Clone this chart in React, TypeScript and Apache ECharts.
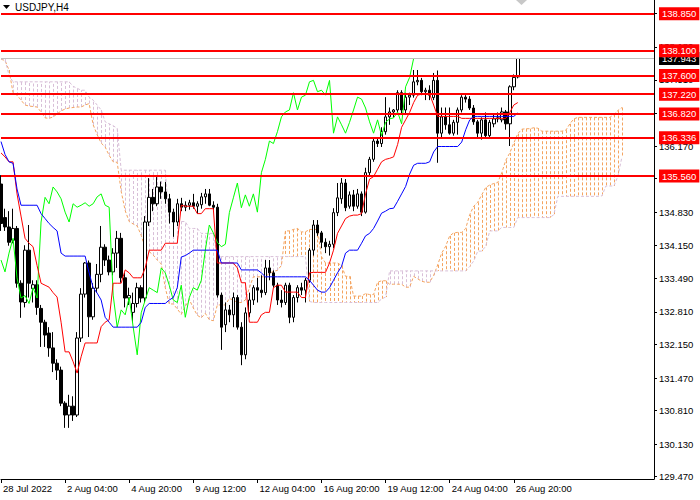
import React, { useEffect, useRef } from "react";
import * as echarts from "echarts";

const FONT = "Liberation Sans";
const SYMBOL_TITLE = "USDJPY,H4";
const FIRST_LABEL = "28 Jul 2022";
const Y_MIN = 129.424;
const Y_MAX = 139.128;
const Y_TICKS = [129.47, 130.13, 130.81, 131.47, 132.15, 132.81, 133.49, 134.15, 134.83, 135.51, 136.17, 136.84, 137.51, 138.18, 138.85];
const Y_TICK_LABELS = [129.47, 130.13, 130.81, 131.47, 132.15, 132.81, 133.49, 134.15, 134.83, 135.51, 136.17, 137.51, 138.18];
const LEVELS = [138.85, 138.1, 137.6, 137.22, 136.82, 136.336, 135.56];
const LAST_PRICE = 137.943;
const BAR_COUNT = 164;

const opens = [135.40,134.72,134.53,134.26,134.50,133.39,133.00,134.06,133.28,133.36,132.88,132.60,132.38,132.08,131.77,131.63,130.96,130.72,130.90,130.72,132.28,133.17,133.80,132.71,133.29,133.57,134.12,133.86,133.62,134.00,134.30,133.50,133.09,132.80,132.98,133.30,133.09,134.63,135.13,135.00,135.34,135.24,135.10,134.83,134.63,135.00,134.93,134.97,135.02,134.95,134.98,135.14,135.20,134.97,134.93,133.15,132.55,132.85,132.75,133.10,132.50,131.94,132.79,133.05,133.30,133.25,133.20,133.70,133.60,133.35,133.05,133.00,133.35,132.70,133.10,133.30,133.25,133.45,134.06,134.57,134.41,134.22,134.13,134.18,134.82,135.10,135.42,134.95,135.18,134.95,135.20,134.83,135.63,135.90,136.27,136.22,136.46,136.76,136.86,136.90,137.25,136.90,137.16,137.20,137.47,137.50,137.27,137.30,137.15,137.50,136.43,136.76,136.60,136.43,136.65,136.90,137.16,137.12,136.94,136.66,136.43,136.70,136.38,136.62,136.72,136.70,136.86,136.62,137.37,137.57];
const highs = [135.58,134.90,134.85,134.90,134.55,133.45,134.16,134.57,133.45,133.45,132.95,132.65,132.50,132.40,131.85,131.70,131.00,131.13,131.10,132.40,133.29,133.82,133.85,133.39,133.78,134.55,134.18,133.95,134.10,134.45,134.41,133.60,133.30,133.20,133.40,133.35,134.75,135.52,135.30,135.54,135.45,135.44,135.20,134.90,135.10,135.12,135.05,135.08,135.20,135.05,135.22,135.30,135.30,135.05,135.00,133.20,133.00,132.95,133.20,133.15,132.60,132.90,133.20,133.35,133.50,133.55,133.86,133.86,133.65,133.40,133.25,133.40,133.40,133.15,133.35,133.40,133.50,134.10,134.67,134.67,134.45,134.30,134.25,134.91,135.42,135.52,135.50,135.25,135.28,135.30,135.25,135.73,135.95,136.35,136.35,136.55,137.16,136.95,136.92,137.30,137.30,137.25,137.25,137.71,137.71,137.55,137.35,137.40,137.65,137.70,136.95,136.95,136.95,136.70,136.95,137.20,137.20,137.18,137.00,136.70,136.75,136.85,136.70,136.80,136.85,136.95,136.90,137.40,137.62,137.943];
const lows = [134.45,134.45,134.15,134.20,133.30,132.69,132.90,133.10,133.00,132.75,132.10,132.10,131.90,131.59,131.43,130.90,130.46,130.46,130.60,130.68,132.20,133.10,132.30,132.65,133.20,133.41,133.74,133.55,133.55,133.70,133.40,132.90,132.95,132.60,132.90,133.00,133.00,134.55,134.85,134.95,135.10,135.00,134.60,134.33,134.55,134.85,134.85,134.88,134.90,134.80,134.90,135.00,134.95,134.88,133.10,132.04,132.40,132.60,132.50,132.45,131.73,131.85,132.70,132.95,133.00,133.10,133.15,133.45,133.30,132.95,132.90,132.95,132.58,132.60,133.00,133.15,133.00,133.40,133.95,134.35,134.10,134.00,133.95,134.10,134.75,135.00,134.85,134.90,134.85,134.90,134.75,134.80,135.55,135.85,136.15,136.15,136.40,136.60,136.75,136.85,136.80,136.80,137.00,137.15,137.40,137.20,137.10,137.10,137.10,135.83,136.35,136.50,136.40,136.38,136.40,136.85,137.05,136.90,136.60,136.35,136.30,136.35,136.35,136.55,136.65,136.65,136.50,136.17,137.30,137.54];
const closes = [134.60,134.53,134.22,134.50,133.39,133.01,134.06,133.39,133.36,132.90,132.60,132.34,132.08,131.77,131.63,130.96,130.72,130.90,130.72,132.28,133.17,133.80,132.71,133.29,133.57,134.12,133.86,133.62,134.00,134.30,133.50,133.09,133.14,132.98,133.30,133.09,134.63,135.13,135.00,135.34,135.24,135.10,134.83,134.63,135.00,134.93,134.97,135.02,134.95,135.00,135.14,135.20,134.97,134.93,133.15,132.50,132.85,132.75,133.10,132.50,131.94,132.79,133.05,133.30,133.25,133.20,133.70,133.60,133.35,133.05,133.00,133.35,132.70,133.10,133.30,133.25,133.45,134.06,134.57,134.41,134.22,134.13,134.18,134.82,135.12,135.42,134.92,135.18,134.95,135.20,134.83,135.63,135.90,136.27,136.22,136.46,136.76,136.86,136.90,137.25,136.90,137.16,137.20,137.47,137.50,137.27,137.30,137.20,137.50,136.43,136.76,136.60,136.43,136.65,136.90,137.16,137.12,136.94,136.66,136.43,136.70,136.38,136.65,136.72,136.74,136.86,136.62,137.37,137.56,137.943];

const tenkan = [136.03,135.95,135.85,135.85,135.20,134.75,134.30,134.20,134.13,133.75,133.39,133.35,133.31,133.20,133.11,132.60,132.00,132.00,131.80,131.57,131.90,132.18,132.18,132.18,132.18,132.51,132.60,132.65,133.39,133.39,133.39,133.66,133.60,133.50,133.50,133.50,133.70,134.06,134.06,134.06,134.06,134.20,134.20,134.20,134.20,134.97,134.95,134.95,134.95,134.80,134.80,134.90,134.90,134.90,133.80,133.80,133.80,133.80,133.80,133.70,133.40,133.40,132.60,132.60,132.60,132.75,132.80,132.80,133.30,133.35,133.35,133.21,133.21,133.21,133.21,133.10,133.10,133.60,133.61,133.61,133.61,133.61,133.80,134.06,134.40,134.55,134.70,134.75,134.77,134.77,134.80,135.20,135.50,135.55,135.70,135.85,135.90,135.92,135.95,136.20,136.55,136.70,136.85,137.05,137.20,137.22,137.22,137.22,137.00,136.77,136.77,136.77,136.77,136.77,136.77,136.73,136.73,136.73,136.73,136.73,136.73,136.73,136.73,136.73,136.73,136.73,136.73,136.85,137.00,137.05];
const kijun = [136.26,136.00,135.85,135.82,135.30,134.97,134.97,134.97,134.97,134.97,134.80,134.70,134.60,134.52,134.45,134.00,133.94,133.94,133.94,133.94,133.94,133.94,133.60,133.30,133.19,133.05,132.70,132.60,132.50,132.50,132.50,132.50,132.50,132.50,132.50,132.60,132.90,132.98,132.98,132.98,132.98,132.98,133.05,133.10,133.30,133.92,133.95,134.00,134.06,134.06,134.06,134.06,134.06,134.06,134.06,133.80,133.80,133.80,133.80,133.80,133.66,133.66,133.66,133.66,133.66,133.60,133.52,133.52,133.52,133.52,133.52,133.52,133.52,133.52,133.52,133.52,133.52,133.45,133.35,133.25,133.21,133.21,133.30,133.45,133.60,133.73,134.00,134.06,134.06,134.06,134.20,134.35,134.40,134.50,134.65,134.81,134.85,134.90,134.91,135.05,135.20,135.35,135.60,135.78,135.82,135.82,135.82,135.85,136.05,136.16,136.16,136.16,136.16,136.16,136.16,136.25,136.50,136.70,136.77,136.77,136.77,136.77,136.77,136.77,136.77,136.77,136.77,136.77,136.77,136.84];
const spanA = [137.93,137.90,137.71,137.25,137.20,137.10,137.00,136.98,136.97,136.96,136.86,136.74,136.73,136.76,136.82,136.88,136.92,136.94,136.95,136.96,136.96,137.00,137.03,136.60,136.40,136.23,136.15,135.98,135.85,135.84,135.25,134.86,134.64,134.59,134.55,134.36,134.10,134.03,133.96,133.86,133.78,133.30,132.97,132.97,132.87,132.76,132.92,133.06,132.89,132.74,132.69,132.78,132.65,132.63,132.95,132.95,132.95,133.08,133.05,133.00,133.00,133.05,133.30,133.52,133.52,133.52,133.52,133.59,133.63,133.65,133.75,134.45,134.45,134.48,134.50,134.43,134.43,134.48,134.48,134.48,133.93,133.80,133.80,133.80,133.80,133.75,133.53,133.53,133.13,133.13,133.13,133.18,133.16,133.16,133.41,133.44,133.44,133.37,133.37,133.37,133.37,133.31,133.31,133.53,133.48,133.43,133.41,133.41,133.55,133.76,134.00,134.14,134.35,134.41,134.42,134.42,134.50,134.78,134.95,135.03,135.18,135.33,135.38,135.41,135.43,135.63,135.88,136.03,136.23,136.42,136.51,136.52,136.52,136.54,136.53,136.47,136.47,136.47,136.47,136.47,136.47,136.49,136.62,136.72,136.75,136.75,136.75,136.75,136.75,136.75,136.75,136.75,136.75,136.81,136.89,136.95];
const spanB = [137.93,137.93,137.60,137.47,137.47,137.47,137.47,137.47,137.47,137.47,137.47,137.47,137.47,137.47,137.47,137.47,137.47,137.47,137.38,137.34,137.30,137.30,137.16,137.10,137.00,136.90,136.66,136.62,136.58,136.53,135.68,135.68,135.68,135.68,135.68,135.68,135.68,135.68,135.68,135.68,135.68,135.68,134.64,134.64,134.64,134.64,134.64,134.50,134.50,134.50,134.40,134.40,134.40,134.40,133.93,133.93,133.93,133.93,133.93,133.93,133.93,133.93,133.93,133.93,133.93,133.93,133.93,133.93,133.93,133.93,133.93,133.93,133.93,133.93,133.93,133.93,133.93,133.02,133.00,133.00,133.00,133.00,133.00,133.00,133.00,133.00,133.00,133.00,133.00,133.00,133.00,133.00,133.00,133.00,133.00,133.07,133.11,133.64,133.64,133.64,133.64,133.64,133.64,133.64,133.64,133.64,133.64,133.64,133.64,133.64,133.64,133.64,133.64,133.64,133.64,133.64,133.64,133.73,133.84,134.04,134.04,134.14,134.45,134.45,134.45,134.52,134.52,134.52,134.52,134.72,134.72,134.72,134.72,134.72,134.72,134.72,134.72,134.72,134.78,135.15,135.15,135.15,135.15,135.15,135.15,135.15,135.15,135.15,135.15,135.15,135.16,135.36,135.36,135.36,135.56,135.95];

const MONTHS = ["Jan", "Feb", "Mar", "Apr", "May", "Jun", "Jul", "Aug", "Sep", "Oct", "Nov", "Dec"];

function buildTimes(): string[] {
  const out: string[] = [];
  let t = Date.UTC(2022, 6, 28, 12);
  while (out.length < BAR_COUNT) {
    const d = new Date(t);
    const wd = d.getUTCDay();
    if (wd !== 0 && wd !== 6) {
      const hh = String(d.getUTCHours()).padStart(2, "0");
      out.push(`${d.getUTCDate()} ${MONTHS[d.getUTCMonth()]} ${hh}:00`);
    }
    t += 4 * 3600 * 1000;
  }
  return out;
}

const showTick = (i: number) => i % 16 === 0 && i < opens.length;

const priceLabel = (bg: string) => ({
  show: true,
  position: "end",
  distance: 5,
  formatter: "{b}",
  color: "#fff",
  backgroundColor: bg,
  padding: [2, 3, 1, 3],
  fontSize: 9.5,
  fontFamily: FONT,
});

export default function App() {
  const ref = useRef<HTMLDivElement>(null);
  useEffect(() => {
    if (!ref.current) return;
    const chart = echarts.init(ref.current, null, { renderer: "svg" });
    const times = buildTimes();
    const candles = opens.map((o, i) => [o, closes[i], lows[i], highs[i]]);
    const cloud = spanA.map((a, i) => [i, a, spanB[i]]);
    const chikou = closes.slice(26);
    const option: any = {
      animation: false,
      backgroundColor: "#ffffff",
      grid: { left: 0, top: 0, right: 46, bottom: 21, containLabel: false },
      xAxis: {
        type: "category",
        data: times,
        boundaryGap: false,
        axisLine: { lineStyle: { color: "#000", width: 1 } },
        axisTick: { interval: (i: number) => showTick(i), length: 4, lineStyle: { color: "#000" } },
        axisLabel: {
          interval: (i: number) => showTick(i),
          formatter: (v: string, i: number) => (i === 0 ? FIRST_LABEL : v),
          align: "left",
          padding: [0, 0, 0, 2],
          color: "#000",
          fontSize: 9.5,
          fontFamily: FONT,
          margin: 4,
        },
        splitLine: { show: false },
      },
      yAxis: {
        type: "value",
        position: "right",
        min: Y_MIN,
        max: Y_MAX,
        axisLine: { show: true, lineStyle: { color: "#000", width: 1 } },
        axisTick: { show: true, customValues: Y_TICKS, length: 3, lineStyle: { color: "#000" } },
        axisLabel: {
          customValues: Y_TICK_LABELS,
          formatter: (v: number) => v.toFixed(3),
          color: "#000",
          fontSize: 9.5,
          fontFamily: FONT,
          margin: 5,
        },
        splitLine: { show: false },
      },
      graphic: [
        { type: "polygon", shape: { points: [[3, 5], [10, 5], [6.5, 9]] }, style: { fill: "#000" } },
        { type: "text", x: 15, y: 2, style: { text: SYMBOL_TITLE, fill: "#000", fontSize: 10, fontFamily: FONT } },
        { type: "polygon", shape: { points: [[516, 0], [527, 0], [521.5, 5]] }, style: { fill: "#C8C8C8" } },
      ],
      series: [
        {
          type: "custom",
          data: cloud,
          encode: { x: 0, y: [1, 2] },
          silent: true,
          z: 1,
          renderItem: (_p: any, api: any) => {
            const j = api.value(0);
            const a = api.value(1);
            const b = api.value(2);
            const p1 = api.coord([j, a]);
            const p2 = api.coord([j, b]);
            const x = Math.round(p1[0]) + 0.5;
            return {
              type: "line",
              shape: { x1: x, y1: p1[1], x2: x, y2: p2[1] },
              style: { stroke: a >= b ? "#F4A460" : "#D8BFD8", lineWidth: 1, lineDash: [3, 2] },
            };
          },
        },
        { type: "line", data: spanA, symbol: "none", silent: true, z: 2, lineStyle: { color: "#F4A460", width: 1, type: [3, 2] } },
        { type: "line", data: spanB, symbol: "none", silent: true, z: 2, lineStyle: { color: "#D8BFD8", width: 1, type: [3, 2] } },
        {
          type: "candlestick",
          data: candles,
          barWidth: 3,
          silent: true,
          z: 3,
          itemStyle: { color: "#ffffff", color0: "#000000", borderColor: "#000000", borderColor0: "#000000", borderWidth: 1 },
        },
        { type: "line", data: chikou, symbol: "none", silent: true, z: 4, lineStyle: { color: "#00FF00", width: 1 } },
        { type: "line", data: tenkan, symbol: "none", silent: true, z: 4, lineStyle: { color: "#FF0000", width: 1 } },
        { type: "line", data: kijun, symbol: "none", silent: true, z: 4, lineStyle: { color: "#0000FF", width: 1 } },
        {
          type: "line",
          data: [],
          silent: true,
          z: 5,
          markLine: {
            silent: true,
            symbol: ["none", "none"],
            precision: 3,
            data: [{ yAxis: LAST_PRICE, name: LAST_PRICE.toFixed(3) }],
            lineStyle: { color: "#C0C0C0", width: 1, type: "solid" },
            label: priceLabel("#000000"),
          },
        },
        {
          type: "line",
          data: [],
          silent: true,
          z: 6,
          markLine: {
            silent: true,
            symbol: ["none", "none"],
            precision: 3,
            data: LEVELS.map((v) => ({ yAxis: v, name: v.toFixed(3) })),
            lineStyle: { color: "#FF0000", width: 2, type: "solid" },
            label: priceLabel("#FF0000"),
          },
        },
      ],
    };
    chart.setOption(option);
    return () => chart.dispose();
  }, []);
  return (
    <div
      ref={ref}
      style={{ position: "fixed", left: 0, top: 0, width: 700, height: 500, background: "#fff" }}
    />
  );
}
